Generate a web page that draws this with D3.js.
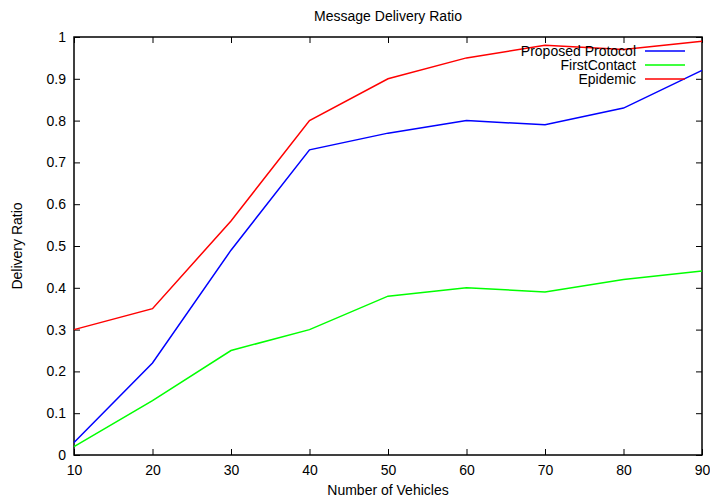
<!DOCTYPE html>
<html>
<head>
<meta charset="utf-8">
<script src="https://cdn.jsdelivr.net/npm/d3@7"></script>
<style>
  body { margin: 0; background: #fff; }
  text { font-family: "Liberation Sans", Arial, sans-serif; fill: #000; }
</style>
</head>
<body>
<div id="chart"></div>
<script>
// data
const vehicles = [10, 20, 30, 40, 50, 60, 70, 80, 90];
const proposed = [0.03, 0.22, 0.49, 0.73, 0.77, 0.80, 0.79, 0.83, 0.92];
const firstContact = [0.02, 0.13, 0.25, 0.30, 0.38, 0.40, 0.39, 0.42, 0.44];
const epidemic = [0.30, 0.35, 0.56, 0.80, 0.90, 0.95, 0.98, 0.97, 0.99];
const seriesNames = ["Proposed Protocol", "FirstContact", "Epidemic"];
const seriesColors = ["#0000ff", "#00ff00", "#ff0000"];
const yTicks = [0, 0.1, 0.2, 0.3, 0.4, 0.5, 0.6, 0.7, 0.8, 0.9, 1];

const width = 710, height = 498;
const plotL = 74, plotR = 702, plotT = 37, plotB = 455;

const svg = d3.select("#chart").append("svg")
  .attr("width", width).attr("height", height);

const x = d3.scaleLinear().domain([10, 90]).range([plotL, plotR]);
const y = d3.scaleLinear().domain([0, 1]).range([plotB, plotT]);

// axes (ticks inward, mirrored)
svg.append("g").attr("transform", `translate(0,${plotB})`)
  .call(d3.axisBottom(x).tickValues(vehicles).tickSize(-6).tickPadding(10).tickFormat(d3.format("d")))
  .call(g => g.select(".domain").remove());
svg.append("g").attr("transform", `translate(0,${plotT})`)
  .call(d3.axisTop(x).tickValues(vehicles).tickSize(-6).tickFormat(""))
  .call(g => g.select(".domain").remove());
svg.append("g").attr("transform", `translate(${plotL},0)`)
  .call(d3.axisLeft(y).tickValues(yTicks).tickSize(-6).tickPadding(8).tickFormat(d => d === 0 || d === 1 ? d : d3.format(".1f")(d)))
  .call(g => g.select(".domain").remove());
svg.append("g").attr("transform", `translate(${plotR},0)`)
  .call(d3.axisRight(y).tickValues(yTicks).tickSize(-6).tickFormat(""))
  .call(g => g.select(".domain").remove());

svg.selectAll(".tick line").attr("stroke", "#000").attr("stroke-width", 1);
svg.selectAll(".tick text").attr("font-size", 14).attr("font-family", "Liberation Sans, Arial, sans-serif");

// border
svg.append("rect")
  .attr("x", plotL).attr("y", plotT)
  .attr("width", plotR - plotL).attr("height", plotB - plotT)
  .attr("fill", "none").attr("stroke", "#000").attr("stroke-width", 1.5);

// lines
const allSeries = [proposed, firstContact, epidemic];
const line = d3.line().x((d, i) => x(vehicles[i])).y(d => y(d));
svg.selectAll(".series")
  .data(allSeries)
  .join("path")
  .attr("class", "series")
  .attr("d", d => line(d))
  .attr("fill", "none")
  .attr("stroke", (d, i) => seriesColors[i])
  .attr("stroke-width", 1.5);

// legend
const legend = svg.append("g");
seriesNames.forEach((name, i) => {
  const ly = 51 + i * 14;
  legend.append("text")
    .attr("x", 636).attr("y", ly + 5)
    .attr("text-anchor", "end").attr("font-size", 14)
    .text(name);
  legend.append("line")
    .attr("x1", 645).attr("x2", 685)
    .attr("y1", ly).attr("y2", ly)
    .attr("stroke", seriesColors[i]).attr("stroke-width", 1.5);
});

// titles
svg.append("text").attr("x", 388).attr("y", 21)
  .attr("text-anchor", "middle").attr("font-size", 14)
  .text("Message Delivery Ratio");
svg.append("text").attr("x", 388).attr("y", 495)
  .attr("text-anchor", "middle").attr("font-size", 14)
  .text("Number of Vehicles");
svg.append("text")
  .attr("transform", `translate(22,${(plotT + plotB) / 2}) rotate(-90)`)
  .attr("text-anchor", "middle").attr("font-size", 14)
  .text("Delivery Ratio");
</script>
</body>
</html>
